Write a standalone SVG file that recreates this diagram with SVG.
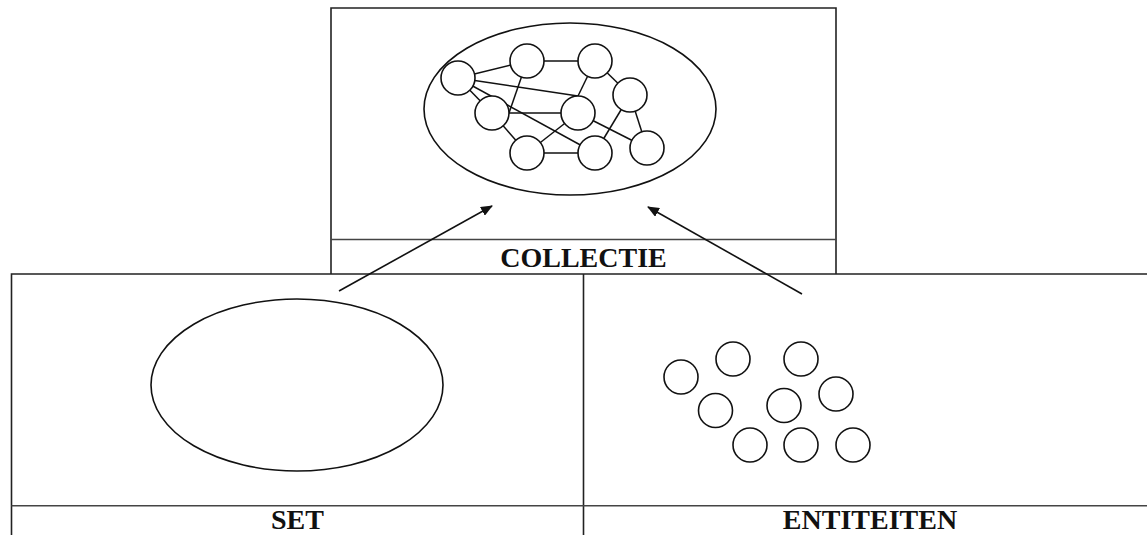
<svg xmlns="http://www.w3.org/2000/svg" width="1147" height="535" viewBox="0 0 1147 535">
<style>
.frame{fill:none;stroke:#222;stroke-width:1.6}
.div{fill:none;stroke:#444;stroke-width:1.6}
.ell{fill:none;stroke:#111;stroke-width:1.6}
.node{fill:#fff;stroke:#111;stroke-width:1.6}
.edge{stroke:#111;stroke-width:1.5}
.arrow{stroke:#111;stroke-width:1.6;fill:none}
.lbl{font-family:"Liberation Serif","Times New Roman",serif;font-weight:bold;font-size:28px;fill:#111;text-anchor:middle}
</style>
<defs>
<marker id="ah" viewBox="0 0 12 10" refX="11" refY="5" markerWidth="12" markerHeight="10" markerUnits="userSpaceOnUse" orient="auto">
<path d="M0,0 L12,5 L0,10 Z" fill="#111"/>
</marker>
</defs>
<rect width="1147" height="535" fill="#fff"/>

<g id="collectie">
<path class="frame" d="M331,274 V8 H836 V274"/>
<line class="div" x1="331" y1="239.5" x2="836" y2="239.5"/>
<ellipse class="ell" cx="570" cy="109" rx="146" ry="86"/>
<g id="graph-edges">
<line class="edge" x1="458" y1="78" x2="527" y2="61"/>
<line class="edge" x1="527" y1="61" x2="595" y2="61"/>
<line class="edge" x1="458" y1="78" x2="578" y2="96"/>
<line class="edge" x1="595" y1="61" x2="578" y2="96"/>
<line class="edge" x1="458" y1="78" x2="492" y2="113"/>
<line class="edge" x1="458" y1="78" x2="595" y2="153"/>
<line class="edge" x1="527" y1="61" x2="509" y2="113"/>
<line class="edge" x1="492" y1="113" x2="578" y2="113"/>
<line class="edge" x1="492" y1="113" x2="527" y2="153"/>
<line class="edge" x1="578" y1="113" x2="527" y2="153"/>
<line class="edge" x1="527" y1="153" x2="595" y2="153"/>
<line class="edge" x1="595" y1="61" x2="630" y2="95"/>
<line class="edge" x1="578" y1="113" x2="647" y2="148"/>
<line class="edge" x1="630" y1="95" x2="595" y2="153"/>
<line class="edge" x1="630" y1="95" x2="647" y2="148"/>
</g>
<g id="graph-nodes">
<circle class="node" cx="458" cy="78" r="17"/>
<circle class="node" cx="527" cy="61" r="17"/>
<circle class="node" cx="595" cy="61" r="17"/>
<circle class="node" cx="492" cy="113" r="17"/>
<circle class="node" cx="578" cy="113" r="17"/>
<circle class="node" cx="630" cy="95" r="17"/>
<circle class="node" cx="527" cy="153" r="17"/>
<circle class="node" cx="595" cy="153" r="17"/>
<circle class="node" cx="647" cy="148" r="17"/>
</g>
<text class="lbl" x="583.5" y="267">COLLECTIE</text>
</g>

<g id="bottom-frame">
<path class="frame" d="M11.5,535 V274 H1147"/>
<line class="frame" x1="583.5" y1="274" x2="583.5" y2="535"/>
<line class="div" x1="11.5" y1="505.7" x2="1147" y2="505.7"/>
</g>

<g id="set">
<ellipse class="ell" cx="297" cy="385" rx="146" ry="86"/>
<text class="lbl" x="297.5" y="529">SET</text>
</g>

<g id="entiteiten">
<circle class="node" cx="681" cy="377" r="17"/>
<circle class="node" cx="733" cy="359" r="17"/>
<circle class="node" cx="801" cy="359" r="17"/>
<circle class="node" cx="836" cy="394" r="17"/>
<circle class="node" cx="715.5" cy="410.5" r="17"/>
<circle class="node" cx="784" cy="405.5" r="17"/>
<circle class="node" cx="750" cy="445" r="17"/>
<circle class="node" cx="801" cy="445" r="17"/>
<circle class="node" cx="853" cy="445" r="17"/>
<text class="lbl" x="870" y="529">ENTITEITEN</text>
</g>

<g id="connectors">
<line class="arrow" x1="339" y1="291" x2="492" y2="206" marker-end="url(#ah)"/>
<line class="arrow" x1="802" y1="294" x2="648" y2="207" marker-end="url(#ah)"/>
</g>
</svg>
